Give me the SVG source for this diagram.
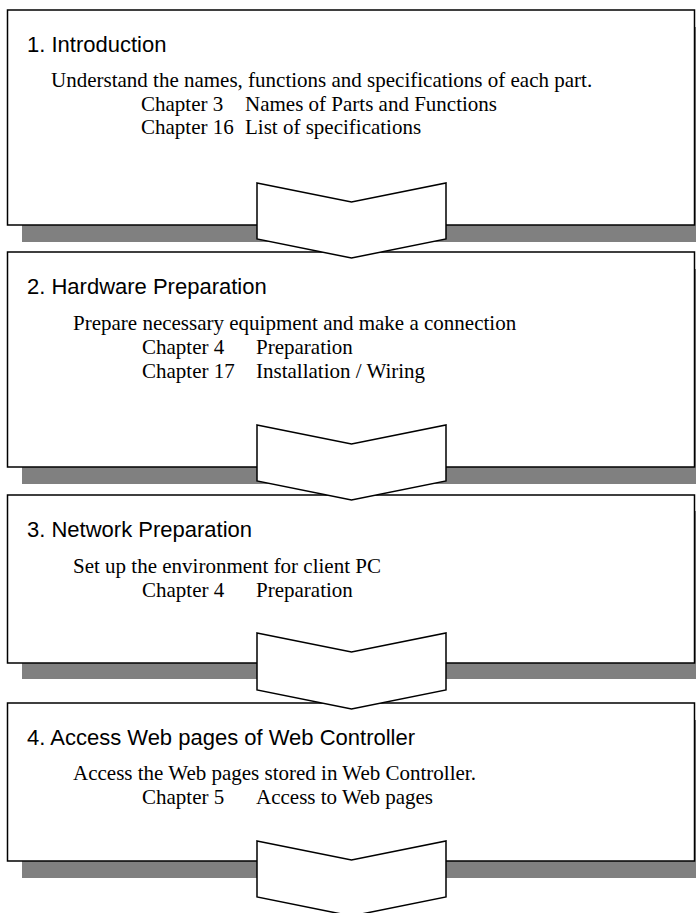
<svg xmlns="http://www.w3.org/2000/svg" width="696" height="913" viewBox="0 0 696 913">
<style>
.bg{fill:#ffffff}
.shadow{fill:#808080;stroke:none}
.box{fill:#ffffff;stroke:#000000;stroke-width:1.5}
.arrow{fill:#ffffff;stroke:#000000;stroke-width:1.5;stroke-linejoin:miter}
.title{font-family:"Liberation Sans",Arial,sans-serif;font-size:22px;fill:#000000}
.body{font-family:"Liberation Serif","Times New Roman",serif;font-size:21px;fill:#000000}
</style>
<rect class="bg" x="0" y="0" width="696" height="913"/>
<g id="step1">
<rect class="shadow" x="22" y="27" width="690" height="215"/>
<rect class="box" x="7.5" y="10" width="687" height="215"/>
<text class="title" x="27" y="52">1. Introduction</text>
<text class="body" x="51" y="87">Understand the names, functions and specifications of each part.</text>
<text class="body" x="141" y="111">Chapter 3</text>
<text class="body" x="245" y="111">Names of Parts and Functions</text>
<text class="body" x="141" y="134">Chapter 16</text>
<text class="body" x="245" y="134">List of specifications</text>
</g>
<g id="step2">
<rect class="shadow" x="22" y="269" width="690" height="215"/>
<rect class="box" x="7.5" y="252" width="687" height="215"/>
<text class="title" x="27" y="294">2. Hardware Preparation</text>
<text class="body" x="73" y="330">Prepare necessary equipment and make a connection</text>
<text class="body" x="142" y="354">Chapter 4</text>
<text class="body" x="256" y="354">Preparation</text>
<text class="body" x="142" y="378">Chapter 17</text>
<text class="body" x="256" y="378">Installation / Wiring</text>
</g>
<g id="step3">
<rect class="shadow" x="22" y="511" width="690" height="168"/>
<rect class="box" x="7.5" y="495" width="687" height="168"/>
<text class="title" x="27" y="537">3. Network Preparation</text>
<text class="body" x="73" y="573">Set up the environment for client PC</text>
<text class="body" x="142" y="597">Chapter 4</text>
<text class="body" x="256" y="597">Preparation</text>
</g>
<g id="step4">
<rect class="shadow" x="22" y="720" width="690" height="158"/>
<rect class="box" x="7.5" y="703" width="687" height="158"/>
<text class="title" x="27" y="745">4. Access Web pages of Web Controller</text>
<text class="body" x="73" y="780">Access the Web pages stored in Web Controller.</text>
<text class="body" x="142" y="804">Chapter 5</text>
<text class="body" x="256" y="804">Access to Web pages</text>
</g>
<g id="connectors">
<polygon class="arrow" points="257,183 351.5,202 446,183 446,239 351.5,258 257,239"/>
<polygon class="arrow" points="257,425 351.5,444 446,425 446,481 351.5,500 257,481"/>
<polygon class="arrow" points="257,633 351.5,652 446,633 446,690 351.5,709 257,690"/>
<polygon class="arrow" points="257,841 351.5,860 446,841 446,897 351.5,916 257,897"/>
</g>
</svg>
